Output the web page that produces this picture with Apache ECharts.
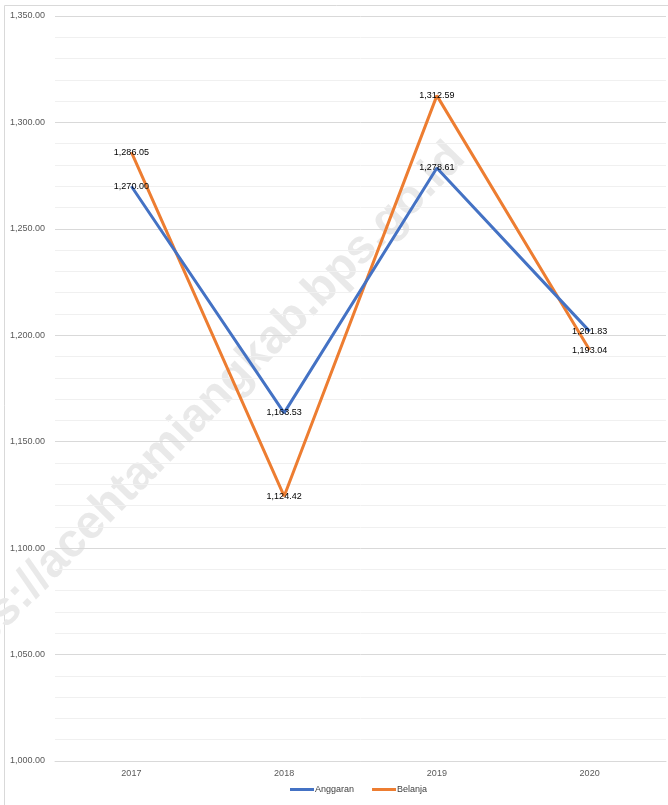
<!DOCTYPE html>
<html><head><meta charset="utf-8">
<script src="https://cdn.jsdelivr.net/npm/echarts@6/dist/echarts.min.js"></script>
<style>html,body{margin:0;padding:0;background:#fff}#c{width:668px;height:805px}</style>
</head><body><div id="c"></div>
<script>
const categories = ['2017', '2018', '2019', '2020'];
const anggaran = [1270.00, 1163.53, 1278.61, 1201.83];
const belanja = [1286.05, 1124.42, 1312.59, 1193.04];
const seriesNames = ['Anggaran', 'Belanja'];
const colors = ['#4472C4', '#ED7D31'];
const watermark = 'https://acehtamiangkab.bps.go.id';

const chart = echarts.init(document.getElementById('c'));
const fmt = v => v.toLocaleString('en-US', {minimumFractionDigits: 2, maximumFractionDigits: 2});
const font = 'Liberation Sans, Arial, sans-serif';
const lbl = {show: true, position: 'inside', align: 'center', verticalAlign: 'middle',
  color: '#000', fontSize: 9, fontFamily: font, formatter: p => fmt(p.value)};
const mk = (i, vals, z) => ({name: seriesNames[i], type: 'line', data: vals,
  symbol: 'circle', symbolSize: 0.1, showSymbol: true, color: colors[i],
  itemStyle: {color: colors[i]}, lineStyle: {width: 3, color: colors[i]}, label: lbl, z: z});
chart.setOption({
  animation: false,
  graphic: [
    {type: 'rect', shape: {x: 4.5, y: 5.5, width: 680, height: 820}, style: {fill: 'none', stroke: '#d9d9d9', lineWidth: 1}, z: -10},
    {type: 'text', x: 196, y: 417, rotation: Math.PI * 45.5 / 180, silent: true,
      style: {text: watermark, fill: '#e9e9e9', font: 'bold 47px Liberation Sans, Arial, sans-serif', textAlign: 'center', textVerticalAlign: 'middle'}, z: -5}
  ],
  grid: {left: 55, right: 2, top: 16, bottom: 44},
  legend: {bottom: 6, left: 285, itemWidth: 24, itemHeight: 3, itemGap: 18,
    textStyle: {fontSize: 9, fontFamily: font, color: '#404040', padding: [0,0,0,-4]},
    data: seriesNames.map(n => ({name: n, icon: 'rect'}))},
  xAxis: {type: 'category', data: categories, boundaryGap: true,
    axisLine: {lineStyle: {color: '#d9d9d9'}}, axisTick: {show: false},
    axisLabel: {fontSize: 9, fontFamily: font, color: '#595959', margin: 8}},
  yAxis: {type: 'value', min: 1000, max: 1350, interval: 50,
    axisLine: {show: false}, axisTick: {show: false},
    axisLabel: {fontSize: 9, fontFamily: font, color: '#595959', margin: 10, formatter: v => fmt(v)},
    splitLine: {lineStyle: {color: '#d9d9d9'}},
    minorTick: {show: false, splitNumber: 5},
    minorSplitLine: {show: true, lineStyle: {color: '#f0f0f0'}}},
  series: [mk(0, anggaran, 3), mk(1, belanja, 2)]
});
</script></body></html>
